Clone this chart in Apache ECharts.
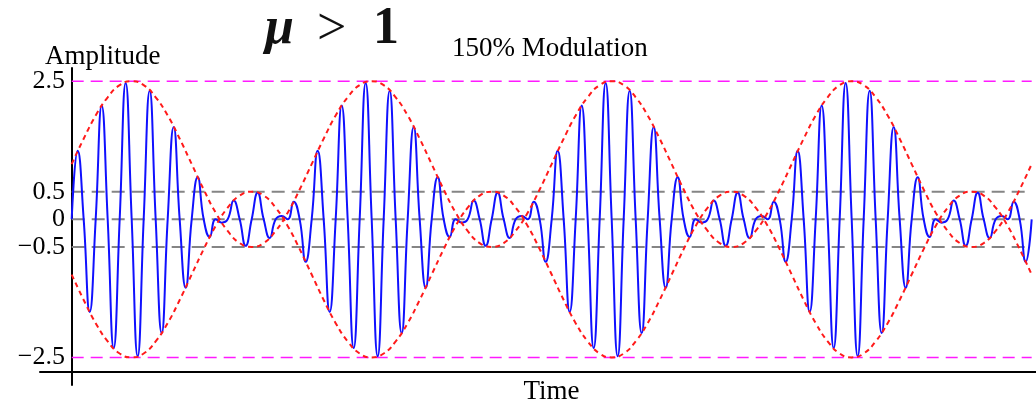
<!DOCTYPE html>
<html>
<head>
<meta charset="utf-8">
<title>150% Modulation</title>
<script src="https://cdn.jsdelivr.net/npm/echarts@6.0.0/dist/echarts.min.js"></script>
<style>
  html, body { margin: 0; padding: 0; background: #fff; }
  #chart { width: 1036px; height: 402px; }
</style>
</head>
<body>
<div id="chart"></div>
<script>
// time is counted in quarter periods of the carrier: 0 .. 160 (4 modulation periods)
const timeEnd = 160

// blue carrier, value at every odd quarter period (t = 1, 3, 5 ... 159), zero crossings between
const carrierPeaks = [
  1.24, -1.68, 2.06, -2.33, 2.47, -2.48, 2.33, -2.06, 1.67, -1.24,
  0.76, -0.32, -0.06, 0.34, -0.48, 0.48, -0.34, 0.06, 0.32, -0.77,
  1.24, -1.68, 2.06, -2.33, 2.47, -2.48, 2.33, -2.06, 1.67, -1.24,
  0.76, -0.32, -0.06, 0.34, -0.48, 0.48, -0.34, 0.06, 0.32, -0.77,
  1.24, -1.68, 2.06, -2.33, 2.47, -2.48, 2.33, -2.06, 1.67, -1.24,
  0.76, -0.32, -0.06, 0.34, -0.48, 0.48, -0.34, 0.06, 0.32, -0.77,
  1.24, -1.68, 2.06, -2.33, 2.47, -2.48, 2.33, -2.06, 1.67, -1.24,
  0.76, -0.32, -0.06, 0.34, -0.48, 0.48, -0.34, 0.06, 0.32, -0.77
]

// red dashed envelope, read every half carrier period (t = 0, 2, 4 ... 160)
const envelope = [
  1.0, 1.46, 1.88, 2.21, 2.43, 2.5, 2.43, 2.21, 1.88, 1.46,
  1.0, 0.54, 0.12, -0.21, -0.43, -0.5, -0.43, -0.21, 0.12, 0.54,
  1.0, 1.46, 1.88, 2.21, 2.43, 2.5, 2.43, 2.21, 1.88, 1.46,
  1.0, 0.54, 0.12, -0.21, -0.43, -0.5, -0.43, -0.21, 0.12, 0.54,
  1.0, 1.46, 1.88, 2.21, 2.43, 2.5, 2.43, 2.21, 1.88, 1.46,
  1.0, 0.54, 0.12, -0.21, -0.43, -0.5, -0.43, -0.21, 0.12, 0.54,
  1.0, 1.46, 1.88, 2.21, 2.43, 2.5, 2.43, 2.21, 1.88, 1.46,
  1.0, 0.54, 0.12, -0.21, -0.43, -0.5, -0.43, -0.21, 0.12, 0.54,
  1.0
]

const yTickLabels = [2.5, 0.5, 0, -0.5, -2.5]
const limitLevels = [2.5, -2.5]      // magenta dashed
const guideLevels = [0.5, 0, -0.5]   // grey dashed

const serif = '"Liberation Serif", "Times New Roman", serif'

// build series data
const carrierData = [[0, 0]]
carrierPeaks.forEach((v, i) => {
  carrierData.push([2 * i + 1, v])
  carrierData.push([2 * i + 2, 0])
})
const upperEnv = envelope.map((v, i) => [2 * i, v])
const lowerEnv = envelope.map((v, i) => [2 * i, -v])

const levelSeries = (levels, color, width, dash) => levels.map(level => ({
  type: 'line',
  data: [[0, level], [timeEnd, level]],
  symbol: 'none',
  silent: true,
  z: 1,
  lineStyle: { color: color, width: width, type: dash }
}))

const envSeries = data => ({
  type: 'line',
  data: data,
  smooth: 0.5,
  symbol: 'none',
  silent: true,
  z: 4,
  lineStyle: { color: '#ff1a1a', width: 2, type: [5, 4] }
})

const chart = echarts.init(document.getElementById('chart'))

const option = {
  animation: false,
  backgroundColor: '#ffffff',
  title: [
    { text: 'μ', left: 265, top: 4, padding: 0,
      textStyle: { fontFamily: serif, fontSize: 52, fontWeight: 'bold', fontStyle: 'italic', color: '#111' } },
    { text: '>', left: 317, top: 4, padding: 0,
      textStyle: { fontFamily: serif, fontSize: 52, fontWeight: 'normal', color: '#111' } },
    { text: '1', left: 373, top: 4, padding: 0,
      textStyle: { fontFamily: serif, fontSize: 52, fontWeight: 'bold', color: '#111' } },
    { text: '150% Modulation', left: 452, top: 35, padding: 0,
      textStyle: { fontFamily: serif, fontSize: 27, fontWeight: 'normal', color: '#000' } },
    { text: 'Amplitude', left: 45, top: 43, padding: 0,
      textStyle: { fontFamily: serif, fontSize: 27, fontWeight: 'normal', color: '#000' } }
  ],
  grid: {
    left: 40,
    right: 0,
    top: 68,
    bottom: 17,
    containLabel: false,
    outerBoundsMode: 'none'
  },
  xAxis: {
    type: 'value',
    min: -5.28,
    max: 160.72,
    offset: -13,
    name: 'Time',
    nameLocation: 'middle',
    nameGap: 6,
    nameTextStyle: { fontFamily: serif, fontSize: 27, color: '#000', padding: [0, 0, 0, 27] },
    axisLine: { onZero: false, lineStyle: { color: '#000', width: 2 } },
    axisTick: { show: false },
    axisLabel: { show: false },
    splitLine: { show: false }
  },
  yAxis: {
    type: 'value',
    min: -3,
    max: 2.74,
    interval: 0.5,
    axisLine: { onZero: true, lineStyle: { color: '#000', width: 2 } },
    axisTick: { show: false },
    splitLine: { show: false },
    axisLabel: {
      fontFamily: serif,
      fontSize: 26,
      color: '#000',
      margin: -25,
      showMinLabel: false,
      showMaxLabel: false,
      formatter: v => yTickLabels.some(t => Math.abs(t - v) < 1e-6) ? String(v).replace('-', '\u2212') : ''
    }
  },
  series: [
    ...levelSeries(guideLevels, '#858585', 2, [13, 7]),
    ...levelSeries(limitLevels, '#ff1aff', 1.5, [12, 7]),
    {
      type: 'line',
      data: carrierData,
      smooth: 0.5,
      symbol: 'none',
      silent: true,
      z: 3,
      lineStyle: { color: '#1010ff', width: 2 }
    },
    envSeries(upperEnv),
    envSeries(lowerEnv)
  ]
}

chart.setOption(option)
</script>
</body>
</html>
